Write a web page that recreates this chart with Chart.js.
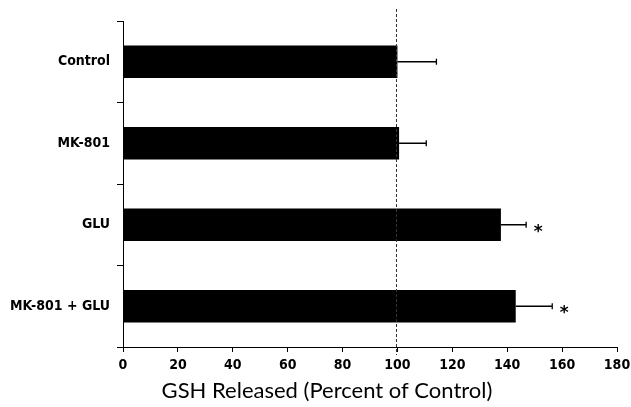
<!DOCTYPE html>
<html>
<head>
<meta charset="utf-8">
<script src="https://cdn.jsdelivr.net/npm/chart.js@4/dist/chart.umd.min.js"></script>
<style>
  html, body { margin: 0; padding: 0; background: #fff; }
  #wrap { width: 631px; height: 407px; position: relative; }
</style>
</head>
<body>
<div id="wrap"><canvas id="c"></canvas></div>
<script>
// Treatment groups and GSH release (percent of control), mean and error
const groups = ['Control', 'MK-801', 'GLU', 'MK-801 + GLU'];
const gshReleased = [100, 100.6, 137.7, 143.1];
const gshError = [14.2, 9.9, 9.2, 13.3];
const significance = ['', '', '*', '*'];
const xTicks = [0, 20, 40, 60, 80, 100, 120, 140, 160, 180];
const controlLevel = 100;
const xTitle = 'GSH Released (Percent of Control)';

const tickFont = { family: '"DejaVu Sans Condensed", "DejaVu Sans"', size: 14, weight: 'bold' };

// Error whiskers, significance marks, control reference line and axis title
const annotations = {
  id: 'annotations',
  afterDatasetsDraw(chart) {
    const { ctx, chartArea, scales: { x, y } } = chart;
    ctx.save();

    // dashed control-level line
    const xr = Math.round(x.getPixelForValue(controlLevel)) - 0.5;
    ctx.strokeStyle = '#333';
    ctx.lineWidth = 1;
    ctx.setLineDash([3, 2]);
    ctx.beginPath();
    ctx.moveTo(xr, chartArea.top - 12);
    ctx.lineTo(xr, chartArea.bottom + 8);
    ctx.stroke();
    ctx.setLineDash([]);

    // error whiskers
    ctx.strokeStyle = '#000';
    ctx.lineWidth = 1.3;
    gshReleased.forEach((v, i) => {
      const yc = y.getPixelForValue(i);
      const x0 = x.getPixelForValue(v);
      const x1 = x.getPixelForValue(v + gshError[i]);
      ctx.beginPath();
      ctx.moveTo(x0, yc);
      ctx.lineTo(x1, yc);
      ctx.moveTo(x1, yc - 3);
      ctx.lineTo(x1, yc + 3);
      ctx.stroke();
      if (significance[i]) {
        ctx.fillStyle = '#000';
        ctx.font = 'bold 17px "DejaVu Sans"';
        ctx.textAlign = 'center';
        ctx.textBaseline = 'alphabetic';
        ctx.fillText(significance[i], x1 + 12, yc + 12);
      }
    });

    // x axis title
    ctx.fillStyle = '#000';
    ctx.font = '22px Lato';
    ctx.textAlign = 'center';
    ctx.textBaseline = 'alphabetic';
    ctx.fillText(xTitle, chartArea.left + 204, 398);
    ctx.restore();
  }
};

new Chart(document.getElementById('c'), {
  type: 'bar',
  data: {
    labels: groups,
    datasets: [{
      data: gshReleased,
      backgroundColor: '#000',
      borderWidth: 0,
      barPercentage: 0.4,
      categoryPercentage: 1
    }]
  },
  options: {
    indexAxis: 'y',
    responsive: true,
    maintainAspectRatio: false,
    animation: false,
    events: [],
    layout: { padding: { top: 21, right: 14, left: 0, bottom: 0 } },
    plugins: {
      legend: { display: false },
      tooltip: { enabled: false }
    },
    scales: {
      x: {
        type: 'linear',
        min: 0,
        max: 180,
        afterBuildTicks(scale) { scale.ticks = xTicks.map(v => ({ value: v })); },
        afterFit(scale) {
          scale.height = 60;
          scale.paddingLeft = 0;
          scale.paddingRight = 0;
        },
        border: { color: '#000', width: 1 },
        grid: { display: true, drawOnChartArea: false, color: '#000', tickLength: 5 },
        ticks: {
          color: '#000',
          padding: 5,
          maxRotation: 0,
          font: tickFont
        }
      },
      y: {
        offset: true,
        afterFit(scale) { scale.width = 123; },
        border: { color: '#000', width: 1 },
        grid: { display: true, drawOnChartArea: false, offset: true, color: '#000', tickLength: 6 },
        ticks: {
          color: '#000',
          padding: 7,
          font: tickFont
        }
      }
    }
  },
  plugins: [annotations]
});
</script>
</body>
</html>
